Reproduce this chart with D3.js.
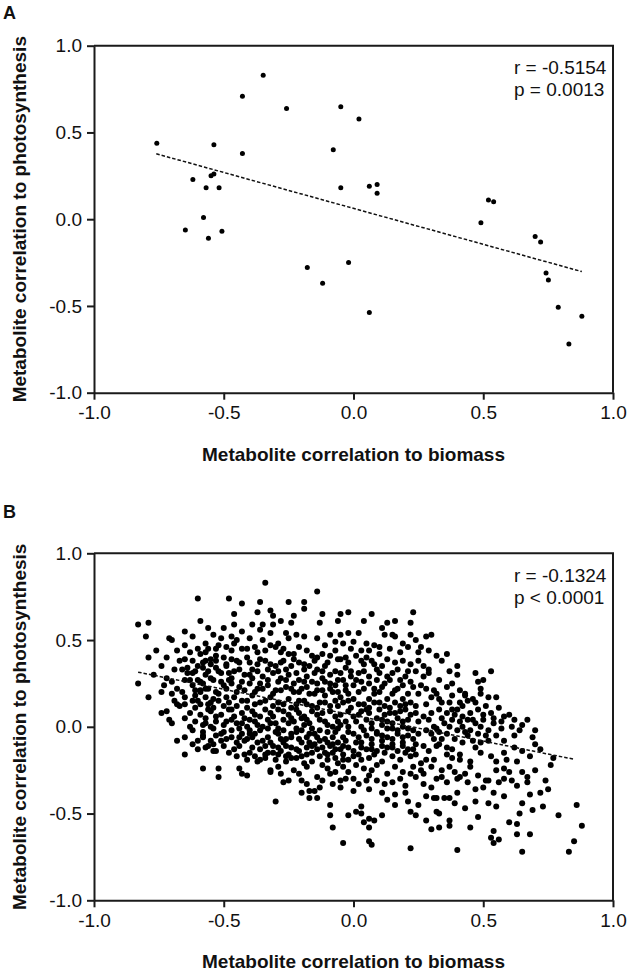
<!DOCTYPE html>
<html><head><meta charset="utf-8">
<script src="https://cdn.jsdelivr.net/npm/d3@7"></script>
<style>
body{margin:0;background:#fff}
svg{display:block}
text{font-family:"Liberation Sans",Arial,Helvetica,sans-serif;fill:#111}
</style>
</head><body>
<svg id="chart" width="630" height="974"></svg>
<script>
// ---------- data ----------
const tickValues = [-1, -0.5, 0, 0.5, 1];
const tickLabels = ["-1.0", "-0.5", "0.0", "0.5", "1.0"];
const xTitle = "Metabolite correlation to biomass";
const yTitle = "Metabolite correlation to photosynthesis";
const panelLabels = ["A", "B"];
const statsA = ["r = -0.5154", "p = 0.0013"];
const statsB = ["r = -0.1324", "p < 0.0001"];

const pointsA = [
[-0.758,0.438],[-0.348,0.829],[-0.428,0.708],[-0.258,0.638],[-0.538,0.429],[-0.428,0.379],
[-0.619,0.229],[-0.549,0.25],[-0.538,0.26],[-0.568,0.181],[-0.518,0.181],[-0.578,0.01],
[-0.648,-0.062],[-0.559,-0.11],[-0.507,-0.069],[-0.178,-0.279],[-0.049,0.648],[0.021,0.578],
[-0.078,0.40],[-0.049,0.181],[0.061,0.19],[0.091,0.20],[0.091,0.15],[0.52,0.111],
[0.54,0.10],[0.491,-0.021],[0.70,-0.10],[0.721,-0.131],[0.742,-0.31],[0.751,-0.35],
[0.789,-0.508],[0.88,-0.559],[0.83,-0.719],[-0.019,-0.25],[-0.119,-0.369],[0.061,-0.538]
];
const fitAx = [-0.76, 0.88];
const fitAy = [0.377, -0.302];

const pointsB = [
[-0.60,0.74],[-0.48,0.74],[-0.83,0.59],[-0.79,0.60],[-0.59,0.61],[-0.80,0.52],[-0.65,0.55],[-0.50,0.57],
[-0.79,0.40],[-0.76,0.44],[-0.71,0.51],[-0.70,0.50],[-0.65,0.47],[-0.60,0.45],[-0.57,0.48],[-0.54,0.53],
[-0.51,0.51],[-0.49,0.46],[-0.72,0.40],[-0.74,0.35],[-0.68,0.44],[-0.67,0.38],[-0.65,0.39],[-0.62,0.38],
[-0.59,0.42],[-0.57,0.43],[-0.55,0.39],[-0.53,0.41],[-0.50,0.40],[-0.83,0.25],[-0.79,0.17],[-0.73,0.24],
[-0.70,0.26],[-0.69,0.33],[-0.66,0.33],[-0.64,0.34],[-0.64,0.31],[-0.61,0.32],[-0.60,0.35],[-0.58,0.34],
[-0.56,0.32],[-0.55,0.36],[-0.53,0.34],[-0.51,0.31],[-0.49,0.35],[-0.70,0.19],[-0.66,0.20],[-0.65,0.27],
[-0.62,0.24],[-0.60,0.27],[-0.59,0.21],[-0.58,0.25],[-0.56,0.22],[-0.54,0.27],[-0.52,0.19],[-0.50,0.24],
[-0.48,0.27],[-0.65,0.17],[-0.61,0.18],[-0.57,0.17],[-0.54,0.16],[-0.49,0.17],
[-0.74,0.08],[-0.72,0.09],[-0.70,0.02],[-0.69,0.15],[-0.68,0.13],[-0.65,0.05],[-0.68,-0.08],[-0.65,-0.06],
[-0.65,-0.16],[-0.65,0.13],[-0.60,-0.08],[-0.60,-0.13],[-0.58,0.01],[-0.58,-0.24],[-0.56,-0.11],[-0.54,-0.14],
[-0.54,-0.10],[-0.53,-0.14],[-0.53,-0.05],[-0.52,-0.24],[-0.52,-0.29],[-0.51,-0.08],[-0.50,-0.03],[-0.48,-0.15],
[-0.59,0.20],[-0.55,0.14],[-0.54,0.11],[-0.56,0.10],[-0.53,0.06],[-0.50,0.12],[-0.48,0.10],[-0.49,0.03],
[-0.55,0.00],[-0.57,0.05],[-0.61,0.11],[-0.62,0.15],[-0.59,0.13],
[-0.47,-0.06],[-0.46,-0.13],[-0.44,-0.06],[-0.44,-0.24],[-0.43,-0.27],[-0.43,-0.04],[-0.42,-0.16],[-0.41,-0.28],
[-0.40,-0.15],[-0.38,-0.17],[-0.37,-0.20],[-0.38,-0.04],[-0.41,-0.07],[-0.40,-0.02],
[-0.43,0.71],[-0.36,0.72],[-0.25,0.72],[-0.19,0.72],[-0.46,0.65],[-0.37,0.66],[-0.32,0.67],[-0.31,0.64],
[-0.23,0.64],[-0.19,0.68],[-0.12,0.65],[-0.05,0.65],[-0.02,0.66],[-0.46,0.59],[-0.39,0.59],[-0.35,0.59],
[-0.31,0.59],[-0.28,0.61],[-0.24,0.60],[-0.13,0.60],[-0.06,0.61],[-0.43,0.55],[-0.36,0.56],[-0.32,0.54],
[-0.26,0.54],[-0.22,0.53],[-0.19,0.52],[-0.14,0.51],[-0.09,0.53],[-0.05,0.53],[-0.02,0.54],[-0.45,0.50],
[-0.40,0.51],[-0.35,0.50],[-0.29,0.48],[-0.25,0.51],[-0.07,0.49],[-0.04,0.48],[0.00,0.49],[-0.47,0.44],
[-0.43,0.45],[-0.38,0.46],[-0.34,0.44],[-0.30,0.46],[-0.27,0.45],[-0.25,0.42],[-0.23,0.42],[-0.16,0.41],
[-0.14,0.40],[-0.12,0.42],[-0.09,0.41],[-0.05,0.39],[-0.03,0.40],[0.01,0.41],[-0.47,0.39],[-0.44,0.37],
[-0.41,0.40],[-0.37,0.36],[-0.34,0.38],[-0.30,0.35],[-0.27,0.38],[-0.24,0.35],[-0.21,0.37],[-0.17,0.35],
[-0.14,0.33],[-0.11,0.35],[-0.07,0.32],[-0.03,0.34],[-0.01,0.32],[-0.46,0.32],[-0.42,0.30],[-0.39,0.33],
[-0.35,0.29],[-0.31,0.31],[-0.28,0.28],[-0.25,0.30],[-0.21,0.27],[-0.18,0.29],[-0.16,0.26],[-0.12,0.28],
[-0.09,0.25],[-0.06,0.27],[-0.03,0.24],[0.01,0.27],[-0.47,0.25],[-0.44,0.23],[-0.40,0.25],[-0.37,0.22],
[-0.33,0.24],[-0.30,0.21],[-0.26,0.23],[-0.23,0.20],[-0.20,0.22],[-0.17,0.19],[-0.14,0.21],[-0.11,0.18],
[-0.08,0.20],[-0.05,0.17],[-0.02,0.19],[0.00,0.16],[-0.46,0.17],[-0.43,0.15],[-0.39,0.18],[-0.36,0.14],
[-0.32,0.17],[-0.29,0.14],[-0.25,0.16],[-0.22,0.13],[-0.19,0.15],[-0.16,0.12],[-0.13,0.14],[-0.09,0.12],
[-0.04,0.14],[-0.01,0.11],[-0.47,0.10],[-0.43,0.08],[-0.41,0.11],[-0.38,0.07],[-0.34,0.10],[-0.31,0.06],
[-0.27,0.09],[-0.24,0.05],[-0.21,0.08],[-0.18,0.04],[-0.14,0.07],[-0.11,0.03],[-0.07,0.06],[-0.03,0.03],
[0.00,0.06],[-0.45,0.02],[-0.41,0.00],[-0.38,0.03],[-0.35,0.00],[-0.32,0.02],[-0.29,-0.01],[-0.25,0.02],
[-0.22,-0.01],[-0.19,0.01],[-0.16,-0.01],[-0.08,0.00],[-0.05,0.01],
[-0.34,0.83],[-0.14,0.78],
[0.04,0.61],[0.07,0.65],[0.02,0.54],[0.11,0.57],[0.13,0.60],[0.16,0.61],[0.15,0.53],[0.16,0.52],
[0.12,0.53],[0.23,0.66],[0.22,0.60],[0.22,0.53],[0.24,0.50],[0.26,0.46],[0.28,0.52],[0.08,0.47],
[0.06,0.44],[0.04,0.36],[0.07,0.38],[0.11,0.35],[0.13,0.39],[0.16,0.37],[0.19,0.38],[0.22,0.36],
[0.25,0.38],[0.27,0.35],[0.02,0.31],[0.06,0.29],[0.09,0.27],[0.13,0.29],[0.15,0.31],[0.18,0.27],
[0.20,0.29],[0.24,0.32],[0.27,0.29],[0.29,0.31],[0.04,0.22],[0.08,0.19],[0.11,0.23],[0.15,0.19],
[0.17,0.22],[0.21,0.19],[0.23,0.23],[0.25,0.19],[0.28,0.22],[0.06,0.16],[0.13,0.16],[0.19,0.16],
[0.03,0.44],[0.10,0.42],[0.14,0.45],[0.18,0.43],[0.21,0.46],[0.25,0.43],[0.05,0.40],[0.09,0.33],
[0.17,0.33],[0.21,0.32],[0.03,0.26],[0.12,0.25],[0.22,0.26],[0.26,0.24],[0.10,0.20],[0.19,0.24],
[-0.35,-0.08],[-0.36,-0.13],[-0.36,-0.19],[-0.33,-0.06],[-0.29,-0.04],[-0.26,-0.07],[-0.22,-0.03],[-0.18,-0.06],
[-0.15,-0.04],[-0.11,-0.07],[-0.07,-0.03],[-0.04,-0.06],[0.00,-0.04],[-0.31,-0.11],[-0.27,-0.09],[-0.24,-0.12],
[-0.20,-0.09],[-0.16,-0.11],[-0.13,-0.08],[-0.09,-0.11],[-0.06,-0.09],[-0.02,-0.12],[0.01,-0.09],[-0.33,-0.15],
[-0.28,-0.14],[-0.25,-0.16],[-0.21,-0.14],[-0.18,-0.16],[-0.14,-0.13],[-0.11,-0.15],[-0.07,-0.13],[-0.04,-0.16],
[0.00,-0.14],[-0.30,-0.19],[-0.26,-0.20],[-0.22,-0.18],[-0.19,-0.21],[-0.10,-0.19],[-0.06,-0.21],[-0.02,-0.19],
[0.04,0.13],[0.08,0.14],[0.12,0.12],[0.16,0.14],[0.20,0.13],[0.24,0.12],
[0.03,0.09],[0.06,0.08],[0.10,0.10],[0.14,0.08],[0.18,0.09],[0.22,0.07],
[0.05,0.04],[0.09,0.05],[0.13,0.03],[0.17,0.05],[0.21,0.04],[0.25,0.03],
[0.03,0.00],[0.07,-0.01],[0.11,0.01],[0.15,-0.01],[0.19,0.00],[0.23,-0.02],
[0.05,-0.05],[0.09,-0.04],[0.13,-0.06],[0.17,-0.04],[0.21,-0.05],[0.25,-0.04],
[0.03,-0.09],[0.07,-0.10],[0.11,-0.08],[0.15,-0.10],[0.19,-0.09],[0.24,-0.10],
[0.05,-0.13],[0.09,-0.14],[0.13,-0.12],[0.17,-0.14],[0.21,-0.13],
[-0.30,-0.43],[-0.09,-0.45],[-0.09,-0.51],[-0.08,-0.58],[-0.04,-0.67],[-0.02,-0.51],[0.01,-0.49],[0.03,-0.46],
[0.03,-0.50],[0.04,-0.55],[0.06,-0.53],[0.08,-0.54],[0.06,-0.58],[0.06,-0.66],[0.07,-0.68],[0.11,-0.51],
[0.22,-0.70],[0.22,-0.49],[0.24,-0.51],[0.28,-0.54],[0.28,-0.40],[0.27,-0.33],[0.21,-0.43],[0.16,-0.45],
[0.16,-0.39],[0.11,-0.38],[0.06,-0.36],[0.00,-0.37],[-0.05,-0.35],[-0.08,-0.33],[-0.14,-0.41],[-0.15,-0.37],
[-0.17,-0.41],[-0.20,-0.38],[-0.25,-0.31],[-0.27,-0.32],[-0.32,-0.25],
[-0.34,-0.16],[-0.31,-0.15],[-0.29,-0.23],[-0.28,-0.27],[-0.32,-0.26],[-0.26,-0.17],[-0.23,-0.25],[-0.21,-0.27],
[-0.20,-0.31],[-0.18,-0.33],[-0.17,-0.37],[-0.13,-0.35],[-0.12,-0.31],[-0.14,-0.29],[-0.18,-0.23],[-0.16,-0.20],
[-0.12,-0.22],[-0.09,-0.27],[-0.07,-0.26],[-0.05,-0.31],[-0.03,-0.30],[-0.02,-0.26],[0.00,-0.30],[0.02,-0.33],
[0.06,-0.28],[0.04,-0.24],[0.07,-0.25],[0.09,-0.31],[0.09,-0.22],[0.13,-0.27],[0.15,-0.32],[0.16,-0.23],
[0.19,-0.26],[0.20,-0.34],[0.23,-0.23],[0.24,-0.29],[0.27,-0.27],[0.28,-0.19],[0.26,-0.21],[0.22,-0.17],
[0.18,-0.19],[0.15,-0.17],[0.11,-0.20],[0.06,-0.18],[0.03,-0.19],[0.00,-0.17],[-0.04,-0.19],[-0.07,-0.18],[-0.10,-0.16],
[0.30,0.53],[0.29,0.44],[0.32,0.41],[0.36,0.42],[0.34,0.38],[0.29,0.33],[0.37,0.32],[0.40,0.35],
[0.40,0.30],[0.47,0.31],[0.53,0.32],[0.50,0.27],[0.48,0.26],[0.49,0.22],[0.33,0.27],[0.36,0.23],
[0.38,0.25],[0.41,0.21],[0.43,0.19],[0.31,0.21],[0.33,0.16],[0.46,0.16],
[0.55,0.17],[0.60,0.07],[0.67,0.04],[0.65,0.01],[0.70,-0.02],[0.70,-0.10],[0.72,-0.13],[0.77,-0.18],
[0.76,-0.22],[0.65,-0.14],[0.62,-0.05],[0.61,0.00],[0.57,0.03],[0.57,-0.01],[0.54,0.02],[0.52,-0.02],
[0.50,0.04],[0.49,0.00],[0.49,-0.09],[0.48,-0.04],[0.45,-0.02],[0.46,-0.08],[0.43,-0.03],[0.40,-0.02],
[0.38,0.04],[0.40,0.10],[0.42,0.12],[0.45,0.08],[0.48,0.10],[0.50,0.07],[0.52,0.17],[0.49,0.19],
[0.43,0.18],[0.38,0.18],[0.41,0.14],[0.37,0.14],[0.34,0.14],[0.32,0.19],[0.28,0.13],[0.27,0.06],
[0.29,0.04],[0.31,0.00],[0.33,-0.03],[0.35,0.02],[0.28,-0.02],[0.31,-0.07],[0.27,-0.11],[0.32,-0.11],
[0.36,-0.12],[0.36,-0.16],[0.38,-0.18],[0.41,-0.19],[0.41,-0.16],[0.45,-0.20],[0.45,-0.23],[0.49,-0.15],
[0.53,-0.17],[0.55,-0.20],[0.58,-0.15],[0.59,-0.19],[0.58,-0.24],[0.60,-0.26],[0.55,-0.25],[0.31,-0.19],
[0.37,-0.23],[0.43,-0.27],[0.65,-0.26],[0.67,-0.29],[0.61,-0.31],[0.67,-0.32],[0.74,-0.31],[0.75,-0.36],
[0.30,-0.35],[0.32,-0.30],[0.34,-0.29],[0.36,-0.32],[0.40,-0.30],[0.41,-0.29],[0.50,-0.35],[0.51,-0.31],
[0.52,-0.31],[0.56,-0.32],[0.54,-0.38],[0.47,-0.36],[0.47,-0.43],[0.52,-0.44],[0.55,-0.46],[0.40,-0.38],
[0.39,-0.44],[0.31,-0.41],[0.32,-0.41],[0.35,-0.41],[0.37,-0.41],[0.32,-0.49],[0.33,-0.50],[0.30,-0.59],
[0.33,-0.58],[0.37,-0.54],[0.37,-0.57],[0.45,-0.58],[0.54,-0.60],[0.53,-0.64],[0.54,-0.67],[0.56,-0.65],
[0.40,-0.71],[0.65,-0.44],[0.68,-0.39],[0.69,-0.48],[0.73,-0.46],[0.64,-0.50],[0.63,-0.56],[0.63,-0.62],
[0.68,-0.62],[0.65,-0.72],[0.79,-0.51],[0.86,-0.45],[0.88,-0.57],[0.85,-0.66],[0.83,-0.72],
[0.30,0.17],[0.33,0.10],[0.36,0.08],[0.39,0.07],[0.44,0.15],[0.47,0.14],[0.51,0.12],[0.53,0.08],
[0.44,0.04],[0.47,0.02],[0.42,0.00],[0.36,-0.04],[0.39,-0.07],[0.42,-0.09],[0.34,-0.07],[0.30,-0.04],
[0.52,-0.08],[0.55,-0.05],[0.58,0.06],[0.56,0.11],[0.62,0.04],[0.64,-0.02]
];

const pointsBcore = [
[-0.58,0.37],[-0.53,0.38],[-0.49,0.36],[-0.45,0.38],[-0.40,0.37],[-0.36,0.39],[-0.32,0.36],[-0.28,0.37],
[-0.23,0.39],[-0.19,0.36],[-0.15,0.38],[-0.10,0.37],[-0.06,0.39],[-0.02,0.37],[0.03,0.38],[0.08,0.36],
[-0.62,0.31],[-0.57,0.30],[-0.52,0.32],[-0.48,0.31],[-0.44,0.33],[-0.40,0.30],[-0.37,0.32],[-0.33,0.33],
[-0.29,0.32],[-0.26,0.33],[-0.22,0.31],[-0.19,0.33],[-0.15,0.31],[-0.12,0.32],[-0.09,0.30],[-0.05,0.31],
[-0.01,0.29],[0.04,0.32],[0.10,0.31],
[-0.63,0.27],[-0.59,0.26],[-0.55,0.28],[-0.51,0.26],[-0.47,0.28],[-0.43,0.26],[-0.39,0.28],[-0.36,0.25],
[-0.33,0.27],[-0.29,0.26],[-0.26,0.27],[-0.23,0.25],[-0.19,0.26],[-0.14,0.25],[-0.11,0.26],[-0.07,0.24],
[-0.04,0.27],[0.00,0.24],[0.06,0.25],[0.14,0.27],
[-0.61,0.21],[-0.57,0.22],[-0.53,0.20],[-0.49,0.22],[-0.45,0.20],[-0.42,0.21],[-0.38,0.20],[-0.35,0.22],
[-0.31,0.19],[-0.28,0.21],[-0.24,0.22],[-0.21,0.20],[-0.18,0.23],[-0.15,0.19],[-0.12,0.21],[-0.09,0.22],
[-0.06,0.20],[-0.03,0.21],[0.02,0.20],[0.08,0.22],[0.16,0.21],
[-0.60,0.15],[-0.56,0.13],[-0.52,0.15],[-0.48,0.14],[-0.45,0.12],[-0.41,0.15],[-0.38,0.13],[-0.34,0.15],
[-0.31,0.12],[-0.27,0.13],[-0.24,0.11],[-0.21,0.15],[-0.18,0.13],[-0.14,0.11],[-0.11,0.14],[-0.07,0.15],
[-0.06,0.12],[-0.02,0.15],[0.02,0.13],[0.06,0.11],[0.10,0.14],[0.14,0.11],[0.18,0.12],[0.22,0.14],
[-0.63,0.08],[-0.59,0.07],[-0.55,0.09],[-0.51,0.07],[-0.46,0.06],[-0.42,0.05],[-0.39,0.09],[-0.36,0.06],
[-0.32,0.08],[-0.29,0.10],[-0.25,0.07],[-0.22,0.10],[-0.19,0.06],[-0.16,0.09],[-0.12,0.08],[-0.09,0.09],
[-0.05,0.07],[-0.02,0.09],[0.02,0.07],[0.05,0.10],[0.12,0.07],[0.16,0.08],[0.20,0.10],[0.24,0.08],
[-0.61,0.03],[-0.57,0.02],[-0.53,0.03],[-0.50,0.01],[-0.47,0.04],[-0.43,0.02],[-0.40,0.04],[-0.37,0.01],
[-0.33,0.04],[-0.30,0.02],[-0.27,0.04],[-0.23,0.03],[-0.20,0.05],[-0.17,0.02],[-0.13,0.04],[-0.10,0.01],
[-0.06,0.03],[-0.02,0.00],[0.01,0.03],[0.07,0.02],[0.11,0.04],[0.15,0.02],[0.19,0.03],
[-0.62,-0.02],[-0.58,-0.03],[-0.54,-0.01],[-0.51,-0.04],[-0.47,-0.02],[-0.44,-0.01],[-0.40,-0.04],[-0.36,-0.02],
[-0.33,-0.01],[-0.30,-0.03],[-0.27,-0.02],[-0.24,-0.04],[-0.20,-0.02],[-0.17,-0.04],[-0.13,-0.02],[-0.10,-0.03],
[-0.06,-0.01],[-0.02,-0.03],[0.04,-0.02],[0.09,-0.03],[0.13,-0.01],[0.17,-0.02],[0.21,-0.01],
[-0.58,-0.06],[-0.55,-0.08],[-0.49,-0.07],[-0.45,-0.09],[-0.42,-0.08],[-0.39,-0.06],[-0.37,-0.09],[-0.32,-0.09],
[-0.28,-0.07],[-0.24,-0.06],[-0.21,-0.07],[-0.17,-0.09],[-0.14,-0.06],[-0.10,-0.09],[-0.08,-0.06],[-0.03,-0.08],
[0.02,-0.06],[0.07,-0.07],[0.11,-0.05],[0.15,-0.07],[0.19,-0.06],[0.23,-0.07],
[-0.57,-0.12],[-0.50,-0.11],[-0.44,-0.11],[-0.39,-0.12],[-0.34,-0.11],[-0.29,-0.12],[-0.26,-0.11],[-0.22,-0.13],
[-0.18,-0.12],[-0.15,-0.10],[-0.12,-0.12],[-0.08,-0.10],[-0.04,-0.11],[0.03,-0.12],[0.07,-0.13],[0.11,-0.11],
[0.15,-0.12],[0.19,-0.11],[0.23,-0.13],
[-0.45,-0.17],[-0.41,-0.19],[-0.34,-0.18],[-0.29,-0.16],[-0.24,-0.18],[-0.20,-0.17],[-0.16,-0.15],[-0.13,-0.17],
[-0.08,-0.15],[-0.05,-0.13],[0.02,-0.16],[0.08,-0.16],[0.12,-0.15],[0.20,-0.15],[0.24,-0.16],
[-0.56,0.45],[-0.52,0.47],[-0.46,0.48],[-0.41,0.45],[-0.37,0.43],[-0.32,0.47],[-0.28,0.43],[-0.21,0.46],
[-0.18,0.44],[-0.11,0.47],[-0.07,0.44],[-0.01,0.45],[0.05,0.48],[0.10,0.46],[0.19,0.48],
[0.30,0.08],[0.34,0.05],[0.38,0.10],[0.42,0.06],[0.46,0.04],[0.32,-0.01],[0.37,0.00],[0.41,0.03],
[0.44,-0.05],[0.33,-0.10],[0.38,-0.13],[0.29,-0.14],[0.47,-0.12],[0.51,-0.05],[0.54,0.05],[0.58,-0.08],
[0.62,-0.12],[0.63,-0.20],[0.68,-0.17],[0.69,-0.06],
[-0.10,-0.24],[-0.04,-0.23],[0.01,-0.22],[0.05,-0.31],[0.12,-0.33],[0.18,-0.30],[0.22,-0.27],[0.26,-0.25],
[0.30,-0.23],[0.34,-0.25],[0.39,-0.26],[0.44,-0.32],[0.48,-0.28],[0.58,-0.30],[0.63,-0.34],[0.70,-0.25],
[0.72,-0.38],[0.20,-0.38],[0.13,-0.42],[0.25,-0.45],[0.43,-0.47],[0.48,-0.52],[0.58,-0.40],[0.60,-0.55],
[-0.77,0.30],[-0.72,0.28],[-0.68,0.22],[-0.63,0.43],[-0.57,0.38],[-0.53,0.45],[-0.47,0.52],[-0.62,0.52],
[-0.56,0.57],[-0.74,0.20],[-0.67,0.12],[-0.63,0.00],[-0.58,-0.05],[-0.62,-0.10],[-0.71,0.04]
];
const fitBx = [-0.83, 0.85];
const fitBy = [0.315, -0.187];

// ---------- drawing ----------
const svg = d3.select("#chart");
const LEFT = 94, RIGHT = 613, H = 347;
const INK = "#1a1a1a";

function drawPanel(cfg) {
  const top = cfg.top, bottom = top + H;
  const g = svg.append("g");
  const x = d3.scaleLinear().domain([-1, 1]).range([LEFT, RIGHT]);
  const y = d3.scaleLinear().domain([-1, 1]).range([bottom, top]);

  g.append("path")
    .attr("d", `M${LEFT},${top}H${RIGHT}V${bottom}`)
    .attr("fill", "none").attr("stroke", INK).attr("stroke-width", 2);

  const fmt = (d) => tickLabels[tickValues.indexOf(d)];
  const ax = g.append("g").attr("transform", `translate(0,${bottom})`)
    .call(d3.axisBottom(x).tickValues(tickValues).tickFormat(fmt)
      .tickSize(7).tickSizeOuter(0).tickPadding(6));
  const ay = g.append("g").attr("transform", `translate(${LEFT},0)`)
    .call(d3.axisLeft(y).tickValues(tickValues).tickFormat(fmt)
      .tickSize(7).tickSizeOuter(0).tickPadding(5));
  [ax, ay].forEach(a => {
    a.select(".domain").attr("stroke", INK).attr("stroke-width", 2);
    a.selectAll(".tick line").attr("stroke", INK).attr("stroke-width", 2);
    a.selectAll(".tick text").attr("font-size", 19).attr("fill", "#111")
      .attr("font-family", '"Liberation Sans",Arial,sans-serif');
  });

  g.append("g").selectAll("circle").data(cfg.points).join("circle")
    .attr("cx", d => x(d[0])).attr("cy", d => y(d[1]))
    .attr("r", cfg.r).attr("fill", "#000");

  g.append("line")
    .attr("x1", x(cfg.fx[0])).attr("y1", y(cfg.fy[0]))
    .attr("x2", x(cfg.fx[1])).attr("y2", y(cfg.fy[1]))
    .attr("stroke", "#111").attr("stroke-width", 1.5)
    .attr("stroke-dasharray", "3.5,2");

  g.selectAll("text.stat").data(cfg.stats).join("text").attr("class", "stat")
    .attr("x", 514).attr("y", (d, i) => top + 28.3 + i * 22)
    .attr("font-size", 19).text(d => d);

  g.append("text").attr("x", (LEFT + RIGHT) / 2).attr("y", bottom + 68)
    .attr("text-anchor", "middle").attr("font-size", 19).attr("font-weight", "bold")
    .text(xTitle);
  g.append("text").attr("transform", `translate(26,${(top + bottom) / 2}) rotate(-90)`)
    .attr("text-anchor", "middle").attr("font-size", 19).attr("font-weight", "bold")
    .text(yTitle);

  g.append("text").attr("x", 3).attr("y", cfg.labelY)
    .attr("font-size", 18).attr("font-weight", "bold").text(cfg.label);
}

drawPanel({top: 45.7, label: panelLabels[0], labelY: 19.3, points: pointsA, r: 2.5,
  fx: fitAx, fy: fitAy, stats: statsA});
drawPanel({top: 553.3, label: panelLabels[1], labelY: 518, points: pointsB.concat(pointsBcore), r: 3,
  fx: fitBx, fy: fitBy, stats: statsB});
</script>
</body></html>
